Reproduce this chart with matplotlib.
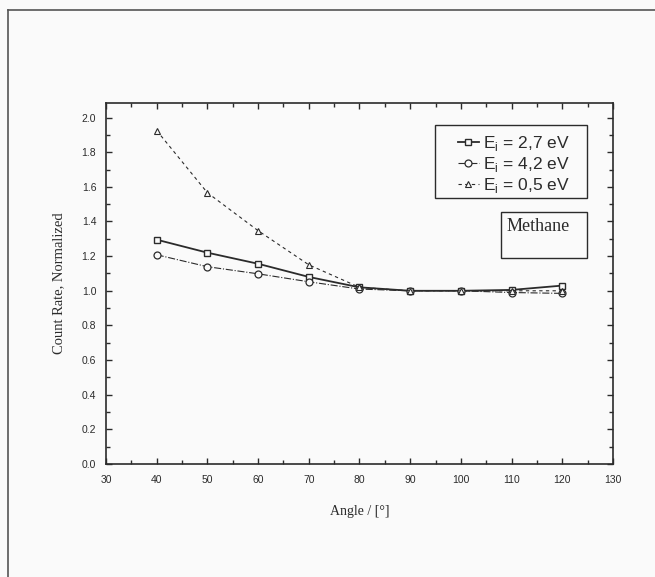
import matplotlib
matplotlib.use("Agg")
import matplotlib.pyplot as plt
from matplotlib.patches import Rectangle
from matplotlib.lines import Line2D
from matplotlib.ticker import MultipleLocator

# data
angles = [40, 50, 60, 70, 80, 90, 100, 110, 120]
e27 = [1.295, 1.22, 1.156, 1.08, 1.02, 1.0, 1.0, 1.005, 1.03]
e42 = [1.208, 1.139, 1.098, 1.052, 1.01, 1.0, 1.0, 0.99, 0.985]
e05 = [1.925, 1.566, 1.347, 1.15, 1.02, 1.0, 1.0, 1.0, 1.0]
labels = [r'E$_\mathregular{i}$ = 2,7 eV', r'E$_\mathregular{i}$ = 4,2 eV', r'E$_\mathregular{i}$ = 0,5 eV']
yticks = [0.0, 0.2, 0.4, 0.6, 0.8, 1.0, 1.2, 1.4, 1.6, 1.8, 2.0]

ink = '#2b2b2b'
paper = '#fafafa'

fig = plt.figure(figsize=(6.55, 5.77), dpi=100, facecolor=paper)
ax = fig.add_axes([0.1618, 0.1958, 0.7741, 0.6257])
ax.set_facecolor(paper)

l1, = ax.plot(angles, e27, '-', color=ink, lw=1.3, marker='s', ms=5,
              mfc=paper, mec=ink, mew=1.0)
l2, = ax.plot(angles, e42, '-.', color=ink, lw=0.8, marker='o', ms=5,
              mfc=paper, mec=ink, mew=0.9)
l3, = ax.plot(angles, e05, '--', color=ink, lw=0.8, dashes=(3, 3), marker='^', ms=4,
              mfc=paper, mec=ink, mew=0.8)

ax.set_xlim(30, 130)
ax.set_ylim(0, 2.084)
ax.xaxis.set_major_locator(MultipleLocator(10))
ax.xaxis.set_minor_locator(MultipleLocator(5))
ax.yaxis.set_minor_locator(MultipleLocator(0.1))
ax.set_yticks(yticks)
ax.set_yticklabels(['%.1f' % v for v in yticks])

ax.tick_params(which='both', direction='in', top=True, right=True, colors=ink,
               labelsize=7.5, width=1.0)
ax.tick_params(which='major', length=4)
ax.tick_params(which='minor', length=3)
ax.tick_params(axis='x', pad=8)
ax.tick_params(axis='y', pad=7)
for lab in ax.get_xticklabels() + ax.get_yticklabels():
    lab.set_family('Liberation Sans')
for s in ax.spines.values():
    s.set_color(ink)
    s.set_linewidth(1.2)

ax.set_xlabel('Angle / [°]', family='Liberation Serif', fontsize=10, color=ink, labelpad=14)
ax.set_ylabel('Count Rate, Normalized', family='Liberation Serif', fontsize=10.5,
              color=ink, labelpad=12)

# legend box
fig.patches.append(Rectangle((0.664, 0.657), 0.232, 0.1265, transform=fig.transFigure,
                             fill=False, ec=ink, lw=1.0))
leg = fig.legend([l1, l2, l3], labels, loc='upper left', bbox_to_anchor=(0.699, 0.768),
                 bbox_transform=fig.transFigure, frameon=False, borderpad=0,
                 borderaxespad=0, handletextpad=0.25, handlelength=1.2, labelspacing=0.12,
                 prop={'family': 'Liberation Sans', 'size': 12.5})
for t in leg.get_texts():
    t.set_color(ink)

# Methane box
fig.patches.append(Rectangle((0.765, 0.553), 0.131, 0.0797, transform=fig.transFigure,
                             fill=False, ec=ink, lw=1.0))
fig.text(0.821, 0.607, 'Methane', family='Liberation Serif', fontsize=13, color=ink,
         ha='center', va='center')

# page frame of the scan
fig.add_artist(Line2D([0.0122, 0.0122], [0, 0.9827], transform=fig.transFigure,
                      color='#555555', lw=1.2))
fig.add_artist(Line2D([0.0122, 1], [0.9827, 0.9827], transform=fig.transFigure,
                      color='#555555', lw=1.2))

fig.savefig('out.png', dpi=100, facecolor=paper)
